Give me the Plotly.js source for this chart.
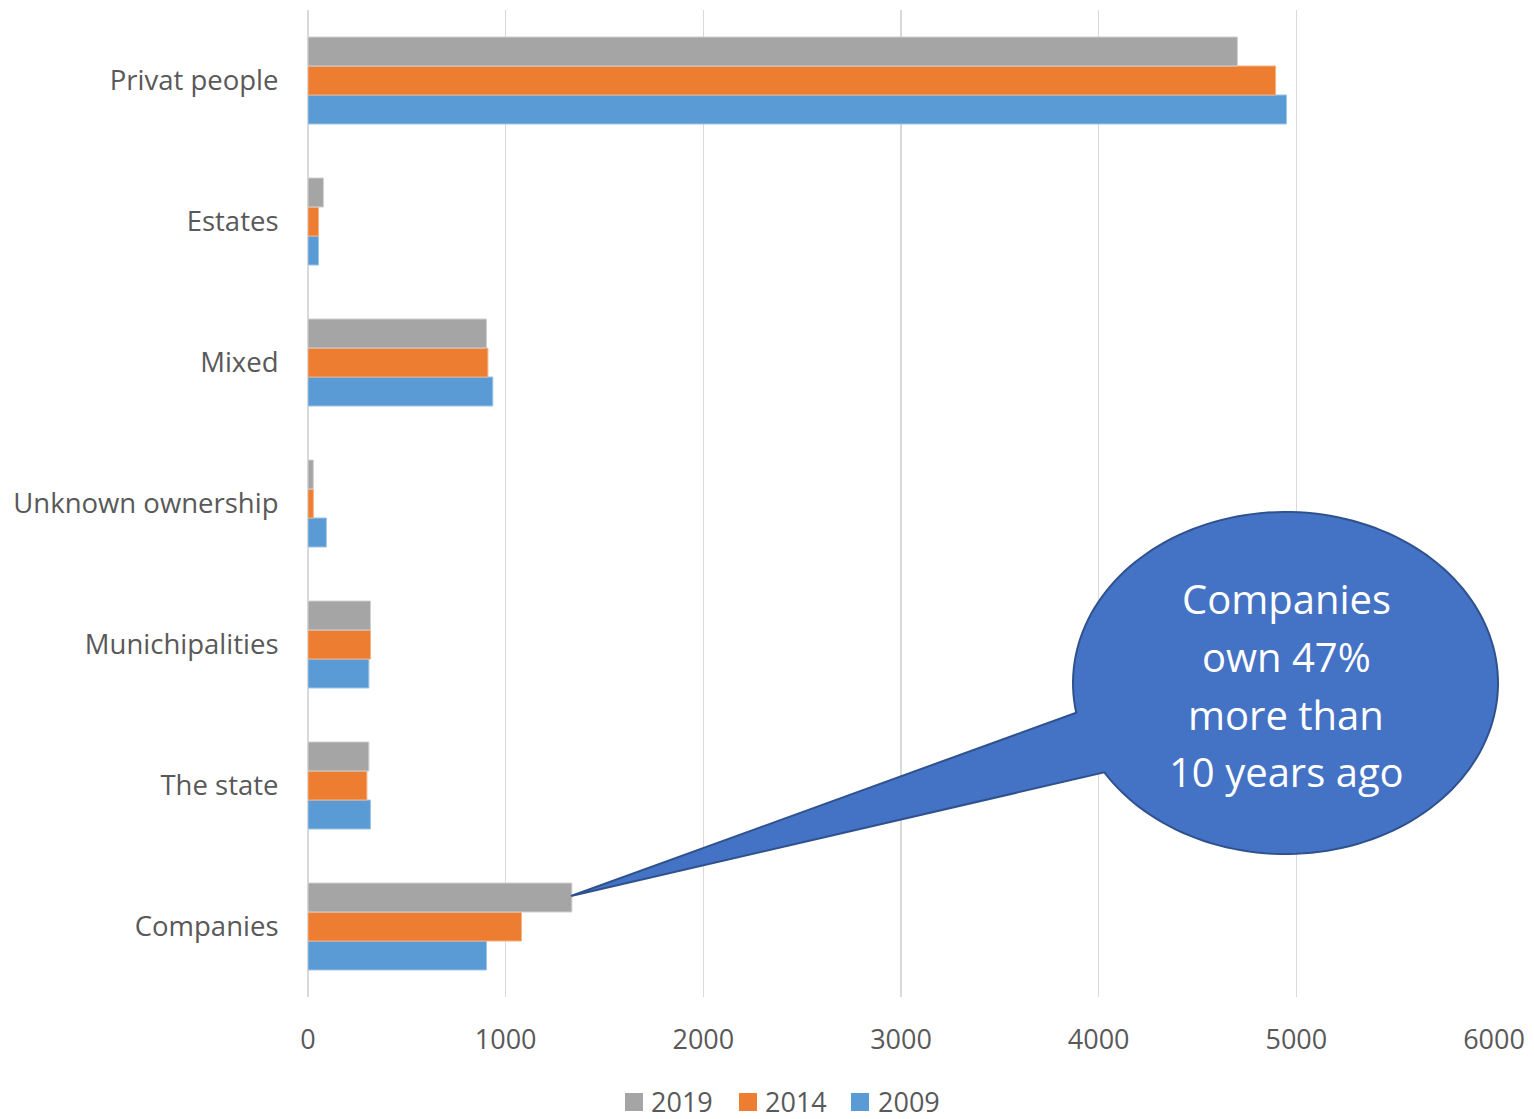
<!DOCTYPE html>
<html>
<head>
<meta charset="utf-8">
<script src="https://cdn.plot.ly/plotly-3.0.1.min.js"></script>
<style>html,body{margin:0;padding:0;background:#fff;}#chart{width:1534px;height:1119px;}</style>
</head>
<body>
<div id="chart"></div>
<script>
// Categories bottom-to-top
const categories = ["Companies", "The state", "Munichipalities", "Unknown ownership", "Mixed", "Estates", "Privat people"];
const values2019 = [1335, 308, 316, 27, 903, 78, 4702];
const values2014 = [1080, 298, 316, 27, 910, 53, 4895];
const values2009 = [903, 316, 308, 93, 935, 53, 4950];
const xTicks = [0, 1000, 2000, 3000, 4000, 5000, 6000];
const seriesNames = ["2019", "2014", "2009"];
const calloutLines = ["Companies", "own 47%", "more than", "10 years ago"];

const W = 1534, H = 1119;
const L = 308, R = 1494, T = 10, B = 997;
const px = x => (x - L) / (R - L);       // pixel x -> paper
const py = y => (B - y) / (B - T);       // pixel y -> paper

const font = "Open Sans, sans-serif";
const grey = "#595959";
const colors = {"2019": "#A5A5A5", "2014": "#ED7D31", "2009": "#5B9BD5"};
const edges = {"2019": "#d0d0d0", "2014": "#f4b183", "2009": "#9dc3e6"};
const vals = {"2019": values2019, "2014": values2014, "2009": values2009};

// first trace sits at the bottom of each group
const traces = ["2009", "2014", "2019"].map(k => ({
  name: k, y: categories, x: vals[k], type: "bar", orientation: "h",
  marker: {color: colors[k], line: {color: edges[k], width: 1}}
}));

// Speech bubble outline (ellipse + tail)
const cx = 1285.5, cy = 683, rx = 212.5, ry = 171;
const tip = [571, 896];
const tUp = 170 * Math.PI / 180, tLo = 148.5 * Math.PI / 180;
const ep = t => [cx + rx * Math.cos(t), cy + ry * Math.sin(t)];
let pts = [ep(tUp), tip];
const n = 160;
for (let i = 0; i <= n; i++) {
  const t = tLo - (tLo - (tUp - 2 * Math.PI)) * i / n;
  pts.push(ep(t));
}
const path = "M" + pts.map(p => px(p[0]).toFixed(5) + "," + py(p[1]).toFixed(5)).join(" L") + " Z";

const lineY = [599, 656, 714, 771];
const annotations = calloutLines.map((s, i) => ({
  xref: "paper", yref: "paper", x: px(1286), y: py(lineY[i]),
  xanchor: "center", yanchor: "middle", showarrow: false,
  text: s, font: {family: font, size: 40, color: "#ffffff"}
}));

const shapes = [{type: "path", xref: "paper", yref: "paper", path: path,
                 fillcolor: "#4472C4", line: {color: "#2F528F", width: 2}, layer: "above"}];

// legend (drawn as swatches + labels below the axis)
const legSwatchX = [625, 739, 851];
const legTextX = [649, 763, 876];
const legY = 1101;
seriesNames.forEach((k, i) => {
  shapes.push({type: "rect", xref: "paper", yref: "paper",
    x0: px(legSwatchX[i]), x1: px(legSwatchX[i] + 18),
    y0: py(legY + 10), y1: py(legY - 8),
    fillcolor: colors[k], line: {width: 0}});
  annotations.push({xref: "paper", yref: "paper", x: px(legTextX[i]), y: py(legY),
    xanchor: "left", yanchor: "middle", showarrow: false, text: k,
    font: {family: font, size: 27, color: grey}});
});

const layout = {
  width: W, height: H,
  margin: {l: L, r: W - R, t: T, b: H - B, pad: 0},
  paper_bgcolor: "#ffffff", plot_bgcolor: "#ffffff",
  barmode: "group", bargap: 0.383, bargroupgap: 0,
  showlegend: false,
  xaxis: {range: [0, 6000], tickvals: xTicks, ticktext: xTicks.map(String),
          showgrid: true, gridcolor: "#D9D9D9", gridwidth: 1.5,
          zeroline: true, zerolinecolor: "#D9D9D9", zerolinewidth: 1.5,
          showline: false, ticks: "outside", ticklen: 19, tickcolor: "rgba(0,0,0,0)",
          tickfont: {family: font, size: 27, color: grey}, fixedrange: true},
  yaxis: {type: "category", categoryorder: "array", categoryarray: categories,
          showgrid: false, zeroline: false, showline: false,
          ticks: "outside", ticklen: 23, tickcolor: "rgba(0,0,0,0)",
          tickfont: {family: font, size: 27.5, color: grey}, fixedrange: true},
  shapes: shapes,
  annotations: annotations
};

Plotly.newPlot("chart", traces, layout, {displayModeBar: false, staticPlot: true});
</script>
</body>
</html>
